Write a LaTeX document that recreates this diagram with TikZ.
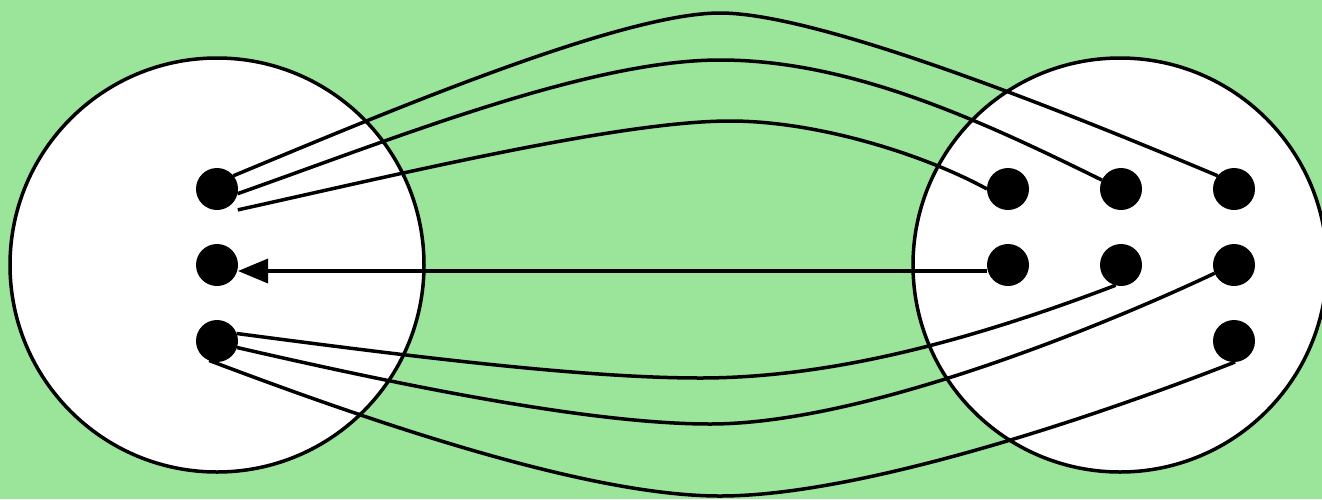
\documentclass[tikz,border=0pt]{standalone}
\usetikzlibrary{arrows.meta}
\definecolor{bg}{RGB}{154,229,154}
\begin{document}
\begin{tikzpicture}[x=1pt,y=-1pt,
  big/.style={circle,draw=black,fill=white,line width=3.5pt,minimum size=414pt,inner sep=0pt,outer sep=0pt},
  dot/.style={circle,fill=black,minimum size=42pt,inner sep=0pt,outer sep=0pt},
  link/.style={line width=3.5pt,draw=black},
]
\fill[bg] (0,0) rectangle (1322,499);
\useasboundingbox (0,0) rectangle (1322,499);
\node[big] (L) at (217,265) {};
\node[big] (R) at (1120,265) {};
% dots
\node[dot] (l1) at (217,189) {};
\node[dot] (l2) at (217,265) {};
\node[dot] (l3) at (217,341) {};
\node[dot] (r11) at (1008,189) {};
\node[dot] (r12) at (1121,189) {};
\node[dot] (r13) at (1234,189) {};
\node[dot] (r21) at (1008,265) {};
\node[dot] (r22) at (1121,265) {};
\node[dot] (r23) at (1234,265) {};
\node[dot] (r33) at (1234,341) {};
% turning points
\coordinate (ma) at (720,13);
\coordinate (mb) at (720,60);
\coordinate (mc) at (730,121);
\coordinate (md) at (700,378);
\coordinate (me) at (710,424);
\coordinate (mf) at (720,496);
% links
\draw[link] (l1.39) .. controls (380,115) and (620,13) .. (ma) .. controls (820,13) and (1068,113) .. (r13.141);
\draw[link] (l1.-13) .. controls (398,137) and (590,60) .. (mb) .. controls (850,60) and (980,120) .. (r12.155);
\draw[link] ([shift={(6pt,-6pt)}]l1.-45) .. controls (400,174) and (620,121) .. (mc) .. controls (820,121) and (927,156) .. (r11.180);
\draw[link] (l3.21) .. controls (400,355) and (580,378) .. (md) .. controls (840,378) and (985,335) .. (r22.-105);
\draw[link] (l3.-18) .. controls (400,385) and (590,424) .. (me) .. controls (870,424) and (1120,318) .. (r23.-157);
\draw[link] (l3.-112) .. controls (380,425) and (590,496) .. (mf) .. controls (860,496) and (1095,417) .. (r33.-87);
\draw[link,-{Triangle[length=30pt,width=24pt]}] ([yshift=-6pt]r21.west) -- ([yshift=-6pt]l2.east);
\end{tikzpicture}
\end{document}
